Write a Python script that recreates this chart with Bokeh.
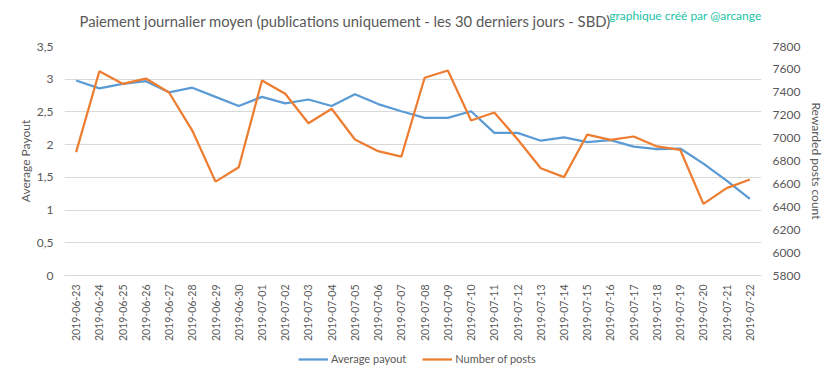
import math
from bokeh.plotting import figure
from bokeh.layouts import column
from bokeh.models import (Range1d, LinearAxis, FixedTicker, CustomJSTickFormatter,
                          Label, Legend, LegendItem, FactorRange, ColumnDataSource)
from bokeh.embed import file_html
from bokeh.resources import INLINE

dates = ["2019-06-23", "2019-06-24", "2019-06-25", "2019-06-26", "2019-06-27",
         "2019-06-28", "2019-06-29", "2019-06-30", "2019-07-01", "2019-07-02",
         "2019-07-03", "2019-07-04", "2019-07-05", "2019-07-06", "2019-07-07",
         "2019-07-08", "2019-07-09", "2019-07-10", "2019-07-11", "2019-07-12",
         "2019-07-13", "2019-07-14", "2019-07-15", "2019-07-16", "2019-07-17",
         "2019-07-18", "2019-07-19", "2019-07-20", "2019-07-21", "2019-07-22"]
avg_payout = [2.98, 2.86, 2.93, 2.97, 2.80, 2.87, 2.73, 2.59, 2.73, 2.63,
              2.69, 2.59, 2.77, 2.62, 2.51, 2.41, 2.41, 2.51, 2.18, 2.18,
              2.06, 2.11, 2.04, 2.07, 1.97, 1.93, 1.94, 1.71, 1.45, 1.17]
num_posts = [6877, 7584, 7474, 7520, 7398, 7066, 6620, 6745, 7503, 7387,
             7130, 7256, 6988, 6886, 6839, 7527, 7590, 7154, 7224, 6990,
             6737, 6659, 7031, 6985, 7014, 6927, 6898, 6426, 6563, 6638]
left_ticks = [0, 0.5, 1, 1.5, 2, 2.5, 3, 3.5]
right_ticks = [5800, 6000, 6200, 6400, 6600, 6800, 7000, 7200, 7400, 7600, 7800]
series_names = ["Average payout", "Number of posts"]

FONT = "Lato"
TXT = "#595959"
BLUE = "#5B9BD5"
ORANGE = "#ED7D31"
GRID = "#D9D9D9"

W = 833
H0, H1, H2 = 36, 308, 35
src = ColumnDataSource(dict(d=dates, a=avg_payout, n=num_posts))

# ---- header strip (title + credit); its frame is aligned with the main frame (x 64..761) ----
p0 = figure(width=W, height=H0, output_backend="svg", toolbar_location=None,
            min_border=0, x_range=Range1d(0, 1), y_range=Range1d(0, 1),
            x_axis_location=None, y_axis_location=None)
p0.outline_line_color = None
p0.grid.visible = False
title = Label(x=79 - 64, y=H0 - 20, x_units="screen", y_units="screen",
              text="Paiement journalier moyen (publications uniquement  - les 30 derniers jours - SBD)",
              text_font=FONT, text_font_size="14.8px", text_color=TXT,
              text_baseline="middle")
p0.add_layout(title)
wm = Label(x=761 - 64, y=H0 - 15, x_units="screen", y_units="screen",
           text="graphique créé par @arcange", text_font=FONT,
           text_font_size="12px", text_color="#22C3A6", text_baseline="middle",
           text_align="right")
p0.add_layout(wm)

# ---- main chart ----
p = figure(width=W, height=H1, output_backend="svg", toolbar_location=None,
           x_range=FactorRange(*dates), y_range=Range1d(0, 3.5),
           min_border_left=64, min_border_right=72, min_border_top=10,
           min_border_bottom=69)
p.extra_y_ranges = {"posts": Range1d(5800, 7800)}
p.outline_line_color = None

l1 = p.line("d", "a", source=src, line_color=BLUE, line_width=2.25)
l2 = p.line("d", "n", source=src, line_color=ORANGE, line_width=2.25, y_range_name="posts")

p.xgrid.grid_line_color = None
p.ygrid.grid_line_color = GRID
p.ygrid.ticker = FixedTicker(ticks=left_ticks)

xa = p.xaxis[0]
xa.major_label_orientation = math.pi / 2
xa.major_label_text_font = FONT
xa.major_label_text_font_size = "10.5px"
xa.major_label_text_color = TXT
xa.axis_line_color = GRID
xa.major_tick_line_color = None
xa.minor_tick_line_color = None
xa.major_tick_out = 0
xa.major_label_standoff = 9

ya = p.yaxis[0]
ya.ticker = FixedTicker(ticks=left_ticks)
ya.formatter = CustomJSTickFormatter(code="return tick.toString().replace('.', ',');")
ya.axis_label = "Average Payout"

ra = LinearAxis(y_range_name="posts", ticker=FixedTicker(ticks=right_ticks),
                axis_label="Rewarded posts count")
p.add_layout(ra, "right")

for ax in (ya, ra):
    ax.axis_line_color = None
    ax.major_tick_line_color = None
    ax.minor_tick_line_color = None
    ax.major_tick_out = 0
    ax.minor_tick_out = 0
    ax.major_label_text_font = FONT
    ax.major_label_text_font_size = "12px"
    ax.major_label_text_color = TXT
    ax.axis_label_text_font = FONT
    ax.axis_label_text_font_size = "12px"
    ax.axis_label_text_color = TXT
    ax.axis_label_text_font_style = "normal"
    ax.major_label_standoff = 11
ya.axis_label_standoff = 1
ra.axis_label_standoff = 6

# ---- legend strip (frame aligned with the main frame) ----
p2 = figure(width=W, height=H2, output_backend="svg", toolbar_location=None,
            min_border=0, x_range=FactorRange(*dates), y_range=Range1d(-2, -1),
            x_axis_location=None, y_axis_location=None)
p2.outline_line_color = None
p2.grid.visible = False
k1 = p2.line("d", "a", source=src, line_color=BLUE, line_width=2.25)
k2 = p2.line("d", "n", source=src, line_color=ORANGE, line_width=2.25)
legend = Legend(items=[LegendItem(label=series_names[0], renderers=[k1]),
                       LegendItem(label=series_names[1], renderers=[k2])],
                orientation="horizontal", location=(298 - 64, 14),
                label_text_font=FONT, label_text_font_size="11px",
                label_text_color=TXT, glyph_width=30, glyph_height=12,
                spacing=16, border_line_color=None, padding=2, margin=0,
                label_standoff=3, background_fill_alpha=0)
p2.add_layout(legend, "center")

open("out.html", "w").write(file_html(column(p0, p, p2, spacing=0), INLINE))
